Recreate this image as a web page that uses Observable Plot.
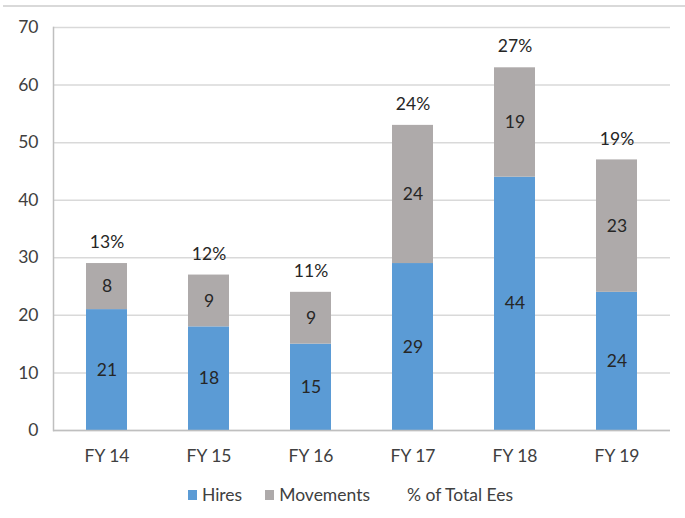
<!DOCTYPE html>
<html>
<head>
<meta charset="utf-8">
<script src="https://cdn.jsdelivr.net/npm/d3@7"></script>
<script src="https://cdn.jsdelivr.net/npm/@observablehq/plot@0.6"></script>
<style>
  body { margin: 0; background: #fff; font-family: Lato, "Open Sans", sans-serif; }
  #wrap { position: relative; width: 685px; height: 518px; }
  #topline { position: absolute; top: 5px; left: 3px; right: 0; height: 2px; background: #d9d9d9; }
  #chart { position: absolute; top: 0; left: 0; }
  #legend { position: absolute; top: 484px; left: 0; width: 685px; padding-left: 16px; box-sizing: border-box; display: flex; justify-content: center; gap: 23px; font-size: 17.5px; color: #404040; }
  .item { display: flex; align-items: center; gap: 5px; }
  .sw { width: 9px; height: 10px; display: inline-block; }
</style>
</head>
<body>
<div id="wrap">
  <div id="topline"></div>
  <div id="chart"></div>
  <div id="legend"></div>
</div>
<script>
// Headcount by fiscal year: new hires and internal movements, with share of total employees
const years = ["FY 14", "FY 15", "FY 16", "FY 17", "FY 18", "FY 19"];
const hires = [21, 18, 15, 29, 44, 24];
const movements = [8, 9, 9, 24, 19, 23];
const shareOfTotal = ["13%", "12%", "11%", "24%", "27%", "19%"];
const yTicks = [0, 10, 20, 30, 40, 50, 60, 70];

const seriesNames = ["Hires", "Movements"];
const seriesColors = ["#5b9bd5", "#aeaaaa"];

const rows = years.flatMap((year, i) => [
  {year, series: "Hires", value: hires[i]},
  {year, series: "Movements", value: movements[i]}
]);

// Segment midpoints for labels inside the bars
const segLabels = years.flatMap((year, i) => [
  {year, value: hires[i], mid: hires[i] / 2},
  {year, value: movements[i], mid: hires[i] + movements[i] / 2}
]);
const totals = years.map((year, i) => ({year, total: hires[i] + movements[i], label: shareOfTotal[i]}));

const FS = 17.5;

const chart = Plot.plot({
  width: 685,
  height: 475,
  marginTop: 27,
  marginLeft: 53,
  marginRight: 15,
  marginBottom: 45,
  style: {fontFamily: "Lato, 'Open Sans', sans-serif", fontSize: FS + "px", color: "#404040", background: "transparent"},
  x: {domain: years, paddingInner: 0.6, paddingOuter: 0.3, label: null},
  y: {domain: [0, 70], ticks: yTicks, label: null},
  color: {domain: seriesNames, range: seriesColors},
  marks: [
    Plot.gridY(yTicks, {stroke: "#d9d9d9", strokeOpacity: 1, strokeWidth: 1.5}),
    Plot.barY(rows, {x: "year", y: "value", fill: "series", order: seriesNames}),
    Plot.ruleY([0], {stroke: "#bfbfbf", strokeWidth: 1.5}),
    Plot.frame({anchor: "left", stroke: "#bfbfbf", strokeWidth: 1.5}),
    Plot.axisY(yTicks, {tickSize: 0, tickPadding: 15, fontSize: FS, fill: "#404040"}),
    Plot.axisX({tickSize: 0, tickPadding: 19, fontSize: FS, fill: "#404040"}),
    Plot.text(segLabels, {x: "year", y: "mid", text: d => String(d.value), fontSize: FS, fill: "#262626"}),
    Plot.text(totals, {x: "year", y: "total", text: "label", dy: -21, fontSize: FS, fill: "#262626"})
  ]
});
document.getElementById("chart").appendChild(chart);

// Legend
const legend = document.getElementById("legend");
seriesNames.forEach((name, i) => {
  const item = document.createElement("span");
  item.className = "item";
  item.innerHTML = `<span class="sw" style="background:${seriesColors[i]}"></span><span>${name}</span>`;
  legend.appendChild(item);
});
const pctItem = document.createElement("span");
pctItem.className = "item";
pctItem.style.marginLeft = "14px";
pctItem.textContent = "% of Total Ees";
legend.appendChild(pctItem);
</script>
</body>
</html>
